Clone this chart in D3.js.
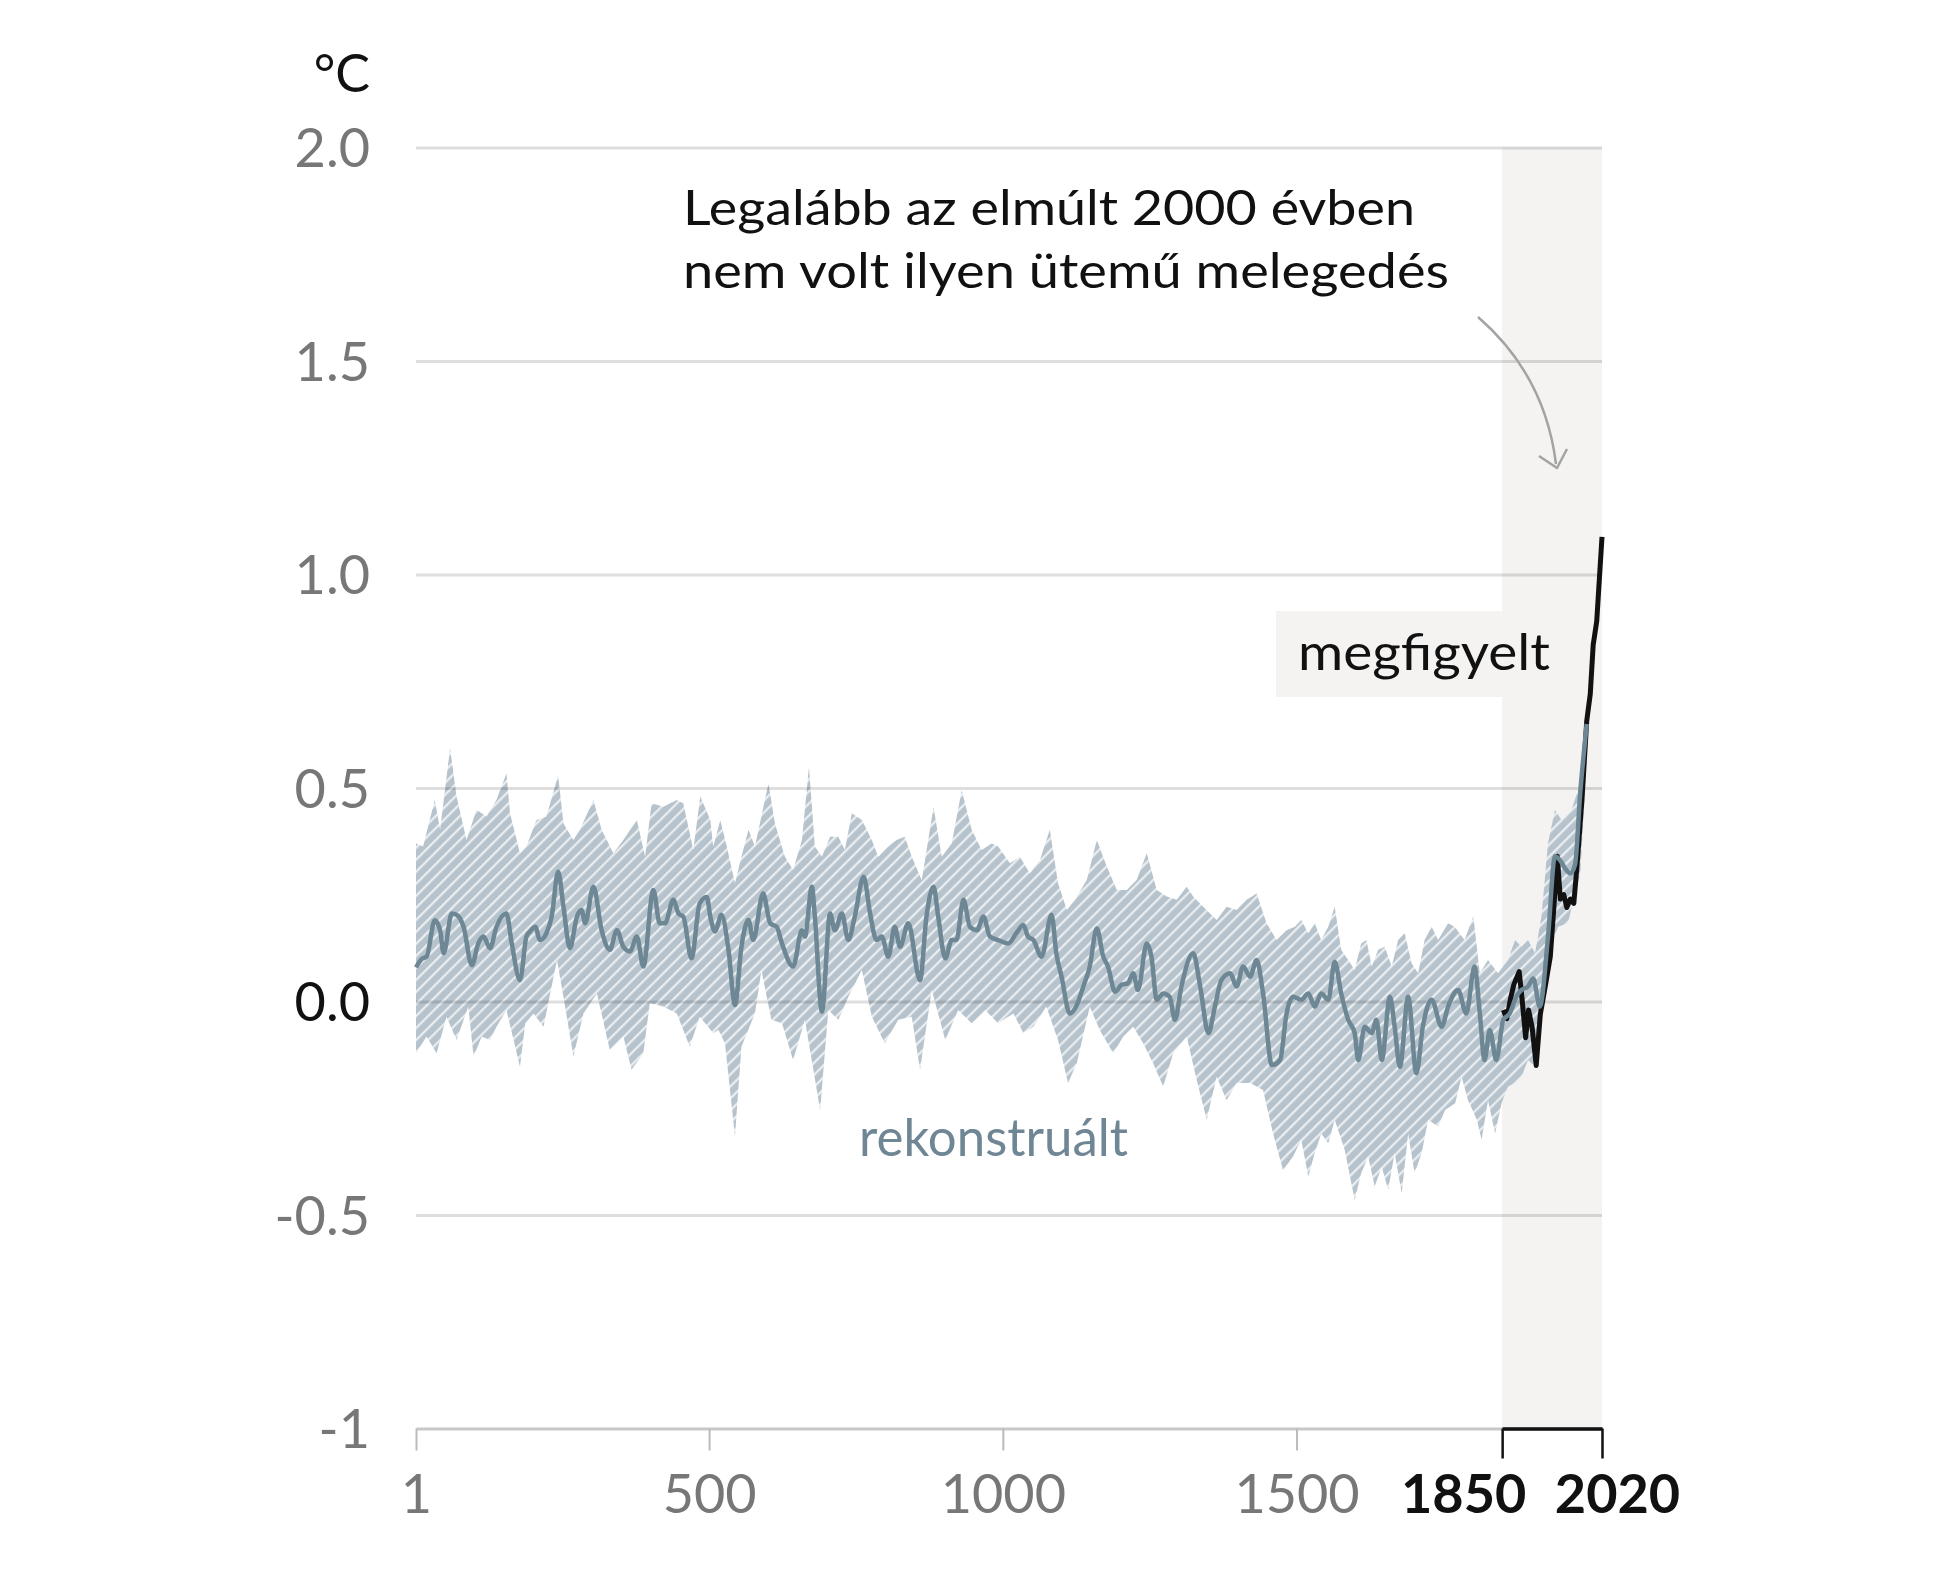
<!DOCTYPE html>
<html lang="hu">
	<head>
		<meta charset="UTF-8">
		<title>Globális felszíni hőmérséklet változása</title>
		<script src="https://cdnjs.cloudflare.com/ajax/libs/d3/7.8.5/d3.min.js"></script>
		<style>
			body { margin: 0; background: #fff; }
			svg text { font-family: Lato, "Open Sans", sans-serif; }
		</style>
		<script>
var yTicks = [-1, -0.5, 0, 0.5, 1, 1.5, 2];
var xTicksGray = [1, 500, 1000, 1500];
var xTicksBold = [1850, 2020];

// reconstructed median
var recYears = [1, 11, 19, 33, 42, 48, 62, 70, 82, 96, 107, 116, 127, 138, 155, 164, 178, 189, 195, 204, 212, 223, 232, 243, 252, 263, 275, 283, 289, 303, 317, 331, 343, 354, 365, 377, 388, 405, 416, 425, 439, 448, 456, 470, 484, 496,
	502, 510, 521, 533, 544, 555, 567, 575, 592, 604, 615, 624, 643, 658, 663, 675, 680, 692, 706, 714, 726, 737, 748, 763, 774, 785, 794, 805, 816, 825, 839, 859, 870, 882, 890, 902, 913, 921, 933, 944, 956, 967, 978, 992,
	1009, 1023, 1035, 1043, 1052, 1066, 1083, 1091, 1100, 1114, 1126, 1137, 1148, 1160, 1171, 1179, 1191, 1202, 1213, 1222, 1230, 1245, 1253, 1262, 1273, 1284, 1293, 1304, 1324, 1336, 1350, 1361, 1372, 1387, 1398, 1409, 1421, 1432, 1443, 1458, 1472, 1483, 1494,
	1508, 1520, 1531, 1542, 1554, 1565, 1576, 1588, 1599, 1605, 1616, 1628, 1636, 1645, 1659, 1667, 1676, 1690, 1704, 1715, 1730, 1747, 1758, 1775, 1789, 1803, 1812, 1820, 1829, 1840, 1852, 1863, 1874, 1883, 1894, 1903, 1914, 1928, 1940, 1949, 1958, 1966, 1974, 1983, 1994];
var recMid = [0.08, 0.10, 0.105, 0.19, 0.167, 0.113, 0.206, 0.203, 0.175, 0.085, 0.136, 0.152, 0.125, 0.175, 0.206, 0.136, 0.05, 0.152, 0.164, 0.175, 0.144, 0.16, 0.199, 0.304, 0.222, 0.125, 0.199, 0.214, 0.183, 0.269, 0.167, 0.121, 0.167, 0.128, 0.117, 0.152, 0.082, 0.261, 0.183, 0.183, 0.238, 0.206, 0.199, 0.101, 0.23, 0.245,
	0.199, 0.164, 0.203, 0.121, -0.008, 0.128, 0.191, 0.144, 0.253, 0.183, 0.175, 0.136, 0.082, 0.167, 0.152, 0.269, 0.199, -0.024, 0.206, 0.167, 0.206, 0.144, 0.199, 0.292, 0.206, 0.144, 0.152, 0.105, 0.175, 0.128, 0.183, 0.05, 0.199, 0.269, 0.199, 0.101, 0.144, 0.144, 0.238, 0.175, 0.167, 0.199, 0.152, 0.144,
	0.136, 0.16, 0.179, 0.152, 0.144, 0.105, 0.203, 0.113, 0.058, -0.028, -0.008, 0.035, 0.082, 0.171, 0.105, 0.082, 0.023, 0.039, 0.043, 0.066, 0.027, 0.136, 0.105, 0.004, 0.019, 0.011, -0.043, 0.035, 0.113, 0.035, -0.074, -0.012, 0.05, 0.066, 0.035, 0.082, 0.058, 0.097, 0.019, -0.149, -0.137, -0.028, 0.011,
	0.004, 0.019, -0.012, 0.019, 0.004, 0.093, 0.019, -0.043, -0.074, -0.137, -0.059, -0.074, -0.043, -0.137, 0.011, -0.059, -0.153, 0.011, -0.168, -0.059, 0.004, -0.059, -0.012, 0.027, -0.028, 0.082, -0.028, -0.137, -0.067, -0.137, -0.043, -0.028, 0.011, 0.027, 0.035, 0.054, -0.012, 0.15, 0.34, 0.33, 0.31, 0.30, 0.32, 0.49, 0.65];

// upper edge of the 90% range
var upYears = [1, 13, 33, 42, 59, 70, 87, 104, 121, 138, 155, 161, 178, 189, 206, 223, 243, 252, 269, 280, 303, 317, 337, 354, 377, 391, 402, 422, 445, 456, 473, 485, 502,
	507, 519, 530, 544, 555, 567, 578, 601, 612, 629, 643, 658, 670, 680, 692, 706, 720, 731, 743, 760, 777, 788, 805, 819, 833, 845, 862, 882, 896, 913, 930, 947, 964, 981, 992,
	1012, 1029, 1046, 1063, 1080, 1094, 1109, 1123, 1143, 1160, 1177, 1194, 1211, 1228, 1245, 1262, 1279, 1296, 1313, 1324, 1341, 1364, 1381, 1398, 1415, 1432, 1449, 1466, 1483,
	1497, 1508, 1520, 1531, 1542, 1554, 1565, 1576, 1588, 1599, 1610, 1619, 1628, 1639, 1650, 1662, 1673, 1684, 1696, 1707, 1718, 1730, 1741, 1758, 1769, 1786, 1801, 1812, 1826, 1843, 1860, 1872, 1883, 1894, 1906, 1917, 1928, 1940, 1951, 1968, 1983, 1991, 1995];
var upVals = [0.37, 0.363, 0.472, 0.402, 0.593, 0.48, 0.378, 0.449, 0.433, 0.472, 0.534, 0.441, 0.347, 0.363, 0.425, 0.433, 0.53, 0.417, 0.378, 0.402, 0.472, 0.402, 0.347, 0.378, 0.425, 0.339, 0.464, 0.456, 0.472, 0.464, 0.355, 0.48, 0.425,
	0.363, 0.425, 0.363, 0.277, 0.339, 0.402, 0.363, 0.511, 0.417, 0.339, 0.308, 0.378, 0.55, 0.363, 0.339, 0.386, 0.386, 0.355, 0.441, 0.425, 0.378, 0.339, 0.363, 0.378, 0.386, 0.339, 0.284, 0.456, 0.339, 0.37, 0.495, 0.402, 0.355, 0.37, 0.363,
	0.324, 0.339, 0.30, 0.331, 0.402, 0.277, 0.214, 0.238, 0.285, 0.378, 0.316, 0.261, 0.261, 0.285, 0.347, 0.261, 0.246, 0.238, 0.269, 0.246, 0.222, 0.191, 0.222, 0.214, 0.238, 0.253, 0.183, 0.144, 0.167,
	0.175, 0.191, 0.16, 0.183, 0.144, 0.175, 0.222, 0.121, 0.097, 0.074, 0.136, 0.144, 0.082, 0.121, 0.128, 0.082, 0.144, 0.16, 0.089, 0.066, 0.144, 0.175, 0.144, 0.183, 0.175, 0.144, 0.199, 0.066, 0.097, 0.066, 0.097, 0.144, 0.128, 0.144, 0.113, 0.199, 0.37, 0.449, 0.425, 0.449, 0.51, 0.60, 0.67];

// lower edge of the 90% range
var loYears = [1, 19, 36, 53, 70, 90, 99, 113, 127, 138, 155, 178, 187, 201, 218, 241, 252, 269, 286, 309, 331, 354, 368, 388, 399, 422, 445, 467, 484, 507,
	516, 527, 544, 555, 578, 589, 606, 624, 643, 663, 689, 703, 720, 737, 760, 777, 799, 822, 845, 859, 879, 902, 924, 947, 970, 992,
	1018, 1035, 1052, 1074, 1094, 1111, 1126, 1148, 1165, 1188, 1205, 1222, 1239, 1256, 1273, 1290, 1313, 1330, 1347, 1364, 1381, 1398, 1421, 1443, 1460, 1477, 1494,
	1508, 1520, 1531, 1542, 1554, 1565, 1582, 1599, 1610, 1622, 1633, 1645, 1656, 1667, 1679, 1690, 1701, 1713, 1724, 1741, 1753, 1770, 1781, 1792, 1807, 1815, 1826, 1838, 1849, 1860, 1872, 1883, 1894, 1906, 1917, 1928, 1945, 1962, 1974, 1983, 1991, 1995];
var loVals = [-0.121, -0.082, -0.121, -0.036, -0.09, -0.012, -0.129, -0.082, -0.09, -0.059, -0.02, -0.153, -0.051, -0.028, -0.059, 0.097, 0.011, -0.129, -0.028, 0.019, -0.114, -0.082, -0.16, -0.121, -0.004, -0.012, -0.028, -0.106, -0.036, -0.074,
	-0.067, -0.098, -0.316, -0.106, -0.028, 0.074, -0.043, -0.051, -0.137, -0.043, -0.254, -0.02, -0.043, 0.011, 0.074, -0.036, -0.098, -0.043, -0.036, -0.16, 0.027, -0.09, -0.02, -0.051, -0.02, -0.051,
	-0.028, -0.074, -0.059, -0.012, -0.09, -0.191, -0.144, -0.012, -0.067, -0.121, -0.082, -0.059, -0.098, -0.145, -0.199, -0.121, -0.082, -0.184, -0.277, -0.176, -0.231, -0.191, -0.191, -0.207, -0.309, -0.395, -0.363,
	-0.324, -0.41, -0.355, -0.309, -0.332, -0.277, -0.348, -0.465, -0.402, -0.363, -0.433, -0.387, -0.441, -0.355, -0.449, -0.309, -0.402, -0.355, -0.277, -0.293, -0.254, -0.238, -0.176, -0.231, -0.277, -0.324, -0.231, -0.309, -0.238, -0.199, -0.191, -0.176, -0.137, -0.153, -0.012, 0.105, 0.175, 0.183, 0.253, 0.30, 0.49, 0.63];

// observed
var obsYears = [1852, 1858, 1864, 1870, 1879, 1884, 1890, 1895, 1901, 1908, 1915, 1924, 1932, 1938, 1944, 1949, 1955, 1960, 1966, 1972, 1977, 1986, 1994, 2000, 2005, 2011, 2020];
var obsVals = [-0.02, -0.04, 0.005, 0.04, 0.07, 0.005, -0.085, -0.02, -0.06, -0.15, -0.03, 0.04, 0.105, 0.22, 0.34, 0.24, 0.25, 0.22, 0.24, 0.23, 0.31, 0.475, 0.657, 0.72, 0.835, 0.89, 1.088];

function makeChart() {
	var svg = d3.select("svg");

	var x = d3.scaleLinear().domain([1, 2020]).range([416, 1602]);
	var y = d3.scaleLinear().domain([-1, 2]).range([1428.5, 147.5]);

	// hatch pattern for the band
	var pat = svg.append("defs").append("pattern")
		.attr("id", "hatch")
		.attr("patternUnits", "userSpaceOnUse")
		.attr("width", 8.5).attr("height", 8.5)
		.attr("patternTransform", "rotate(45)");
	pat.append("rect").attr("width", 8.5).attr("height", 8.5).attr("fill", "#b6c3cc");
	pat.append("line").attr("x1", 1.2).attr("x2", 1.2).attr("y1", 0).attr("y2", 8.5)
		.attr("stroke", "#eef1f3").attr("stroke-width", 2.1);

	// 1850-2020 period shading
	svg.append("rect")
		.attr("x", x(1850)).attr("y", y(2))
		.attr("width", x(2020) - x(1850)).attr("height", y(-1) - y(2))
		.attr("fill", "#f4f3f2");

	// box behind "megfigyelt"
	svg.append("rect")
		.attr("x", 1276).attr("y", 611)
		.attr("width", x(1850) - 1276).attr("height", 86)
		.attr("fill", "#f4f3f2");

	// band
	var upPts = upYears.map((d, i) => [x(d), y(upVals[i])]);
	var loPts = loYears.map((d, i) => [x(d), y(loVals[i])]).reverse();
	svg.append("path")
		.attr("d", d3.line()(upPts.concat(loPts)) + "Z")
		.attr("fill", "url(#hatch)");

	// gridlines
	var grid = svg.append("g")
		.attr("transform", `translate(${x(1)},0)`)
		.call(d3.axisLeft(y).tickValues(yTicks.filter(v => v > -1)).tickSize(-(x(2020) - x(1))).tickFormat(""));
	grid.select(".domain").remove();
	grid.selectAll("line").attr("stroke", "#000").attr("stroke-opacity", 0.13).attr("stroke-width", 3);

	// observed
	svg.append("path")
		.attr("d", d3.line().x((d, i) => x(d)).y((d, i) => y(obsVals[i]))(obsYears))
		.attr("fill", "none").attr("stroke", "#111").attr("stroke-width", 5)
		.attr("stroke-linejoin", "round");

	// reconstructed
	svg.append("path")
		.attr("d", d3.line().curve(d3.curveMonotoneX).x((d, i) => x(d)).y((d, i) => y(recMid[i]))(recYears))
		.attr("fill", "none").attr("stroke", "#6d8795").attr("stroke-width", 4.5)
		.attr("stroke-linejoin", "round");

	// y axis labels
	var fmt = v => v === -1 ? "-1" : v.toFixed(1);
	var ay = svg.append("g")
		.attr("transform", `translate(${x(1)},0)`)
		.call(d3.axisLeft(y).tickValues(yTicks).tickSize(0).tickPadding(46).tickFormat(fmt));
	ay.select(".domain").remove();
	ay.attr("font-family", null).attr("font-size", 54);
	ay.selectAll("text").attr("fill", d => d === 0 ? "#111" : "#777").attr("dy", "0.36em");

	// x axis (gray part)
	var ax = svg.append("g")
		.attr("transform", `translate(0,${y(-1)})`)
		.call(d3.axisBottom(x).tickValues(xTicksGray).tickSize(22).tickSizeOuter(0).tickPadding(24).tickFormat(d3.format("d")));
	ax.attr("font-family", null).attr("font-size", 54);
	ax.select(".domain").attr("stroke", "#c8c8c8").attr("stroke-width", 3);
	ax.selectAll("line").attr("stroke", "#bbb").attr("stroke-width", 2);
	ax.selectAll("text").attr("fill", "#777");

	// x axis (bold bracket)
	var xb = x.copy().domain([1850, 2020]).range([x(1850), x(2020)]);
	var axb = svg.append("g")
		.attr("transform", `translate(0,${y(-1)})`)
		.call(d3.axisBottom(xb).tickValues(xTicksBold).tickSize(30).tickSizeOuter(0).tickPadding(16).tickFormat(d3.format("d")));
	axb.attr("font-family", null).attr("font-size", 54).attr("font-weight", 700);
	axb.select(".domain").attr("stroke", "#111").attr("stroke-width", 3.5);
	axb.selectAll("line").attr("stroke", "#111").attr("stroke-width", 2.5);
	axb.selectAll("text").attr("fill", "#111").attr("dx", d => d === 1850 ? -39 : 15);

	// unit
	svg.append("text").attr("x", 370).attr("y", 92).attr("text-anchor", "end")
		.attr("font-size", 52).attr("fill", "#111").text("°C");

	// annotation
	svg.append("text").attr("x", 683).attr("y", 225).attr("font-size", 49)
		.attr("textLength", 732).attr("lengthAdjust", "spacingAndGlyphs")
		.attr("fill", "#111").text("Legalább az elmúlt 2000 évben");
	svg.append("text").attr("x", 683).attr("y", 288).attr("font-size", 49)
		.attr("textLength", 766).attr("lengthAdjust", "spacingAndGlyphs")
		.attr("fill", "#111").text("nem volt ilyen ütemű melegedés");

	svg.append("path")
		.attr("d", "M1478,317 Q1545,375 1556,464")
		.attr("fill", "none").attr("stroke", "#a3a3a3").attr("stroke-width", 2.5);
	svg.append("path")
		.attr("d", "M1539,456 L1557,468 L1567,449")
		.attr("fill", "none").attr("stroke", "#a3a3a3").attr("stroke-width", 2.5)
		.attr("stroke-linejoin", "round");

	// series labels
	svg.append("text").attr("x", 1298).attr("y", 670).attr("font-size", 50)
		.attr("textLength", 252).attr("lengthAdjust", "spacingAndGlyphs")
		.attr("fill", "#111").text("megfigyelt");
	svg.append("text").attr("x", 859).attr("y", 1156).attr("font-size", 52)
		.attr("textLength", 269).attr("lengthAdjust", "spacingAndGlyphs")
		.attr("fill", "#6f8694").text("rekonstruált");
}
		</script>
	</head>
	<body onload="makeChart()">
		<svg width="1937" height="1578"></svg>
	</body>
</html>
